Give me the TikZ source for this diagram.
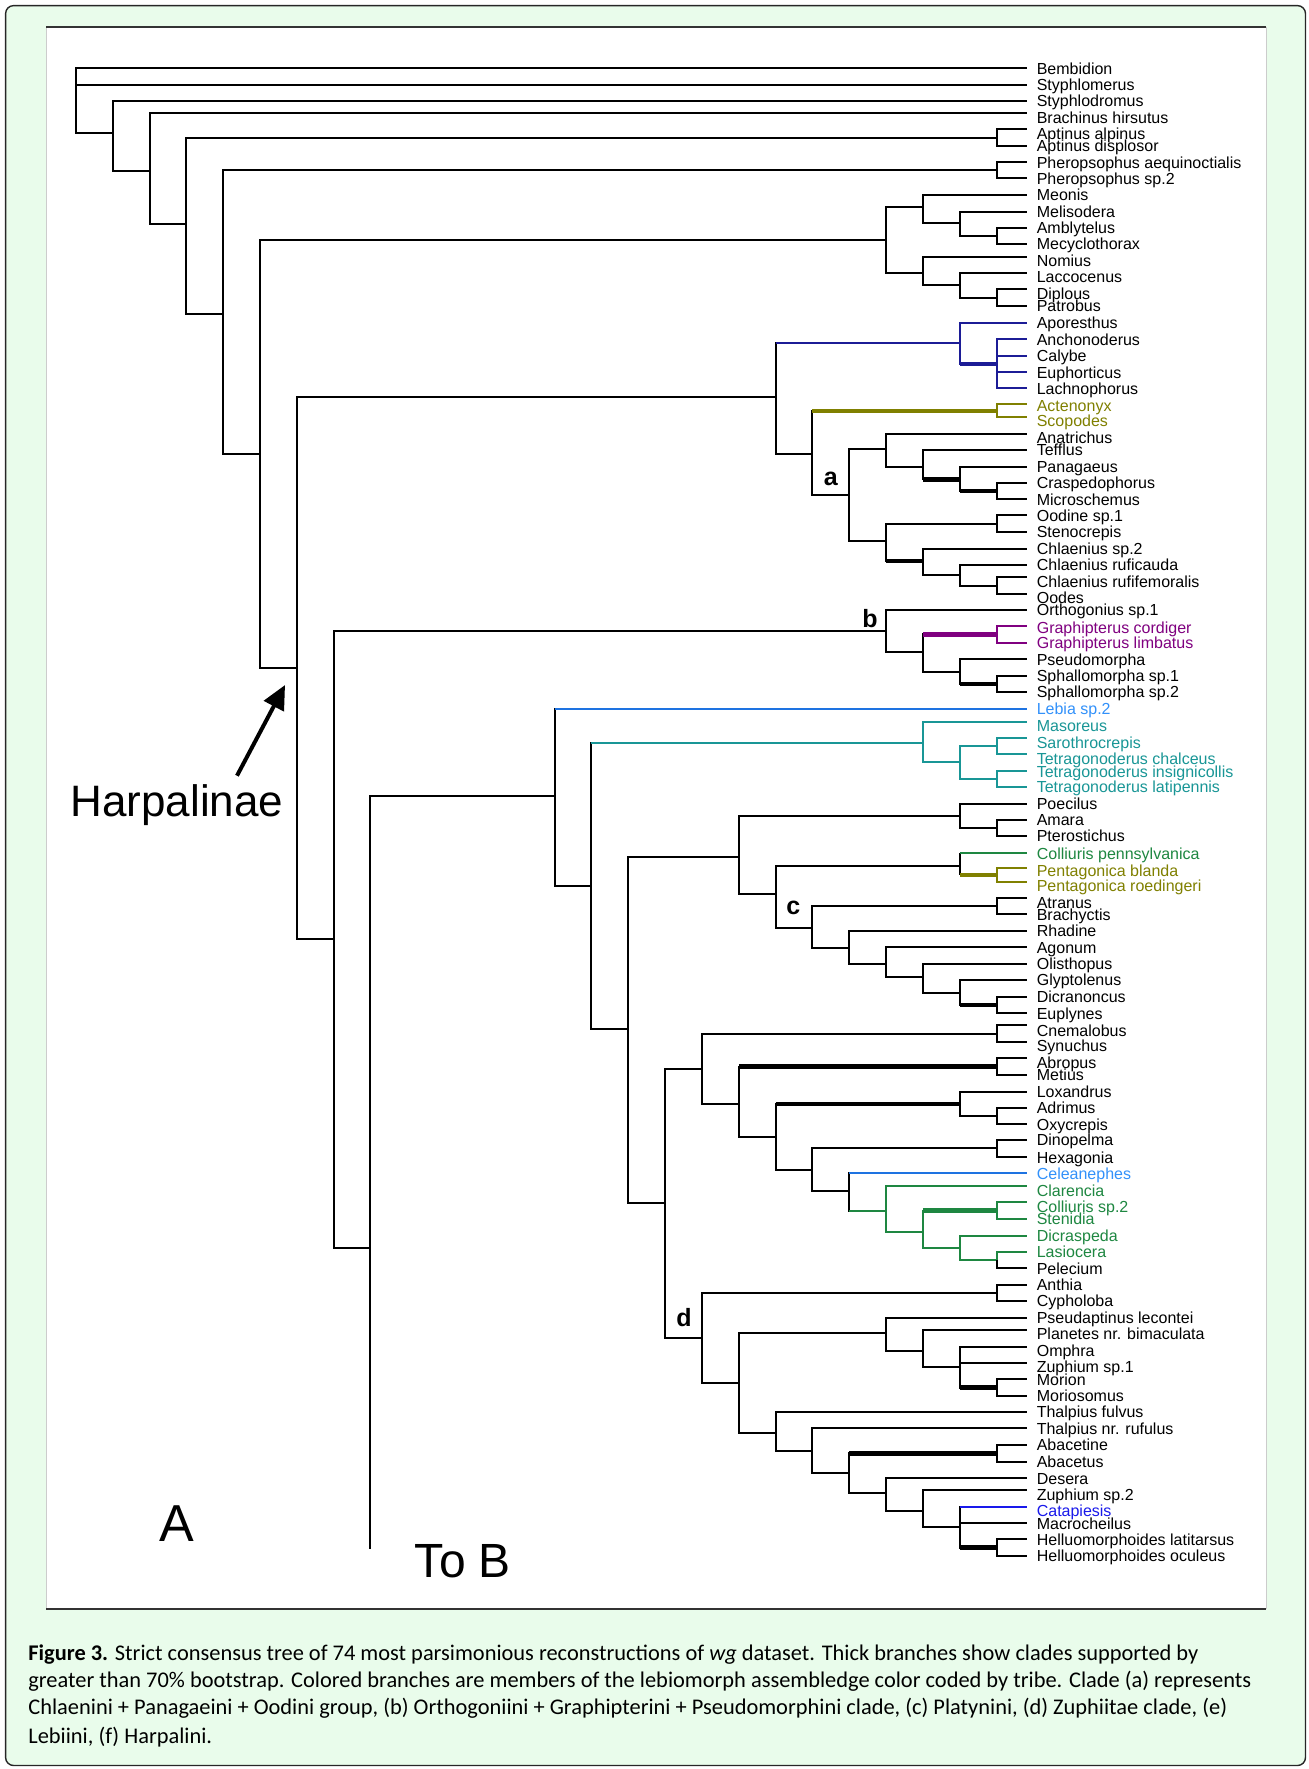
\documentclass[tikz,border=0pt]{standalone}
\usepackage{fontspec}
\setmainfont{Liberation Sans}
\newfontfamily\capfont{Carlito}
\usetikzlibrary{arrows.meta}
\definecolor{framegreen}{RGB}{233,252,235}
\definecolor{navyc}{RGB}{28,28,150}
\definecolor{olivec}{RGB}{128,128,0}
\definecolor{purplec}{RGB}{128,0,128}
\definecolor{lbluec}{RGB}{30,115,225}
\definecolor{lbluet}{RGB}{50,145,250}
\definecolor{tealc}{RGB}{25,150,150}
\definecolor{greenc}{RGB}{30,135,65}
\definecolor{bluec}{RGB}{25,25,235}
\newcommand{\lv}[1]{996.6-(#1-1)*36.83}
\tikzstyle{tip}=[inner sep=0pt,minimum size=0pt]
\tikzstyle{taxlab}=[inner xsep=4.5pt,inner ysep=0pt,text height=6pt,text depth=0.3pt,font=\fontsize{8}{9}\selectfont]
\tikzstyle{br}=[line width=1pt]
\tikzstyle{bs}=[line width=2.3pt]
\tikzstyle{hv}=[to path={|- (\tikztotarget)}]
\tikzstyle{cladelab}=[inner sep=0pt,font=\bfseries\fontsize{12.5}{14}\selectfont]
\tikzstyle{capline}=[anchor=west,inner sep=0pt,font=\capfont\fontsize{11.2}{13}\selectfont]

\begin{document}
\begin{tikzpicture}[x=0.5pt,y=-0.5pt]
            \useasboundingbox (0,0) rectangle (1308,1769);

            % FRAME PART

            \filldraw[fill=framegreen,draw=black!85,line width=0.7pt,rounded corners=4pt] (5.6,5.6) rectangle (1305.5,1765.5);
            \fill[white] (46,27) rectangle (1266,1609);
            \draw[black!20,line width=0.5pt] (46,27) -- (46,1609) (1266,27) -- (1266,1609);
            \draw[black!80,line width=0.7pt] (46,27) -- (1266,27) (46,1609) -- (1266,1609);

            % TAXA PART

            \node[tip,label={[taxlab]right:Bembidion}] (bem) at (1027,68.3) {};
            \node[tip,label={[taxlab]right:Styphlomerus}] (sto) at (1027,84.5) {};
            \node[tip,label={[taxlab]right:Styphlodromus}] (std) at (1027,101) {};
            \node[tip,label={[taxlab,yshift=-2.3pt]right:Brachinus hirsutus}] (bra) at (1027,112.7) {};
            \node[tip,label={[taxlab,yshift=-2pt]right:Aptinus alpinus}] (apa) at (1027,129.3) {};
            \node[tip,label={[taxlab]right:Aptinus displosor}] (apd) at (1027,146) {};
            \node[tip,label={[taxlab]right:Pheropsophus aequinoctialis}] (phe) at (1027,162.3) {};
            \node[tip,label={[taxlab]right:Pheropsophus sp.2}] (phs) at (1027,178.3) {};
            \node[tip,label={[taxlab]right:Meonis}] (meo) at (1027,195) {};
            \node[tip,label={[taxlab]right:Melisodera}] (mel) at (1027,211.7) {};
            \node[tip,label={[taxlab]right:Amblytelus}] (amb) at (1027,227.7) {};
            \node[tip,label={[taxlab]right:Mecyclothorax}] (mec) at (1027,244) {};
            \node[tip,label={[taxlab,yshift=-2pt]right:Nomius}] (nom) at (1027,256.7) {};
            \node[tip,label={[taxlab,yshift=-1.9pt]right:Laccocenus}] (lac) at (1027,272.7) {};
            \node[tip,label={[taxlab,yshift=-2pt]right:Diplous}] (dip) at (1027,289.3) {};
            \node[tip,label={[taxlab]right:Patrobus}] (pat) at (1027,305.7) {};
            \node[tip,label={[taxlab]right:Aporesthus}] (apo) at (1027,322.7) {};
            \node[tip,label={[taxlab]right:Anchonoderus}] (anc) at (1027,339.3) {};
            \node[tip,label={[taxlab]right:Calybe}] (cal) at (1027,355.7) {};
            \node[tip,label={[taxlab]right:Euphorticus}] (eup) at (1027,372.3) {};
            \node[tip,label={[taxlab]right:Lachnophorus}] (lah) at (1027,388.3) {};
            \node[tip,label={[taxlab,text=olivec,yshift=-0.5pt]right:Actenonyx}] (act) at (1027,404.3) {};
            \node[tip,label={[taxlab,text=olivec,yshift=-1.8pt]right:Scopodes}] (sco) at (1027,417.3) {};
            \node[tip,label={[taxlab,yshift=-2pt]right:Anatrichus}] (ana) at (1027,434) {};
            \node[tip,label={[taxlab]right:Tefflus}] (tef) at (1027,450) {};
            \node[tip,label={[taxlab]right:Panagaeus}] (pan) at (1027,466.7) {};
            \node[tip,label={[taxlab]right:Craspedophorus}] (cra) at (1027,482.7) {};
            \node[tip,label={[taxlab]right:Microschemus}] (mic) at (1027,499.3) {};
            \node[tip,label={[taxlab]right:Oodine sp.1}] (ood) at (1027,515.3) {};
            \node[tip,label={[taxlab]right:Stenocrepis}] (ste) at (1027,532) {};
            \node[tip,label={[taxlab]right:Chlaenius sp.2}] (chs) at (1027,549) {};
            \node[tip,label={[taxlab]right:Chlaenius ruficauda}] (chr) at (1027,565) {};
            \node[tip,label={[taxlab,yshift=-2pt]right:Chlaenius rufifemoralis}] (chf) at (1027,577.3) {};
            \node[tip,label={[taxlab,yshift=-2pt]right:Oodes}] (ode) at (1027,594) {};
            \node[tip,label={[taxlab]right:Orthogonius sp.1}] (ort) at (1027,610) {};
            \node[tip,label={[taxlab,text=purplec,yshift=-0.7pt]right:Graphipterus cordiger}] (grc) at (1027,626) {};
            \node[tip,label={[taxlab,text=purplec]right:Graphipterus limbatus}] (grl) at (1027,642.7) {};
            \node[tip,label={[taxlab]right:Pseudomorpha}] (pse) at (1027,659.3) {};
            \node[tip,label={[taxlab]right:Sphallomorpha sp.1}] (sp1) at (1027,675.7) {};
            \node[tip,label={[taxlab]right:Sphallomorpha sp.2}] (sp2) at (1027,692) {};
            \node[tip,label={[taxlab,text=lbluet]right:Lebia sp.2}] (leb) at (1027,708.7) {};
            \node[tip,label={[taxlab,text=tealc,yshift=-2pt]right:Masoreus}] (mas) at (1027,721.7) {};
            \node[tip,label={[taxlab,text=tealc,yshift=-2.4pt]right:Sarothrocrepis}] (sar) at (1027,737.7) {};
            \node[tip,label={[taxlab,text=tealc,yshift=-2.2pt]right:Tetragonoderus chalceus}] (tch) at (1027,754) {};
            \node[tip,label={[taxlab,text=tealc,yshift=-0.6pt]right:Tetragonoderus insignicollis}] (tin) at (1027,770.7) {};
            \node[tip,label={[taxlab,text=tealc]right:Tetragonoderus latipennis}] (tla) at (1027,786.7) {};
            \node[tip,label={[taxlab]right:Poecilus}] (poe) at (1027,803.7) {};
            \node[tip,label={[taxlab]right:Amara}] (ama) at (1027,820) {};
            \node[tip,label={[taxlab]right:Pterostichus}] (pte) at (1027,836) {};
            \node[tip,label={[taxlab,text=greenc]right:Colliuris pennsylvanica}] (cop) at (1027,853.3) {};
            \node[tip,label={[taxlab,text=olivec,yshift=-1pt]right:Pentagonica blanda}] (peb) at (1027,868.3) {};
            \node[tip,label={[taxlab,text=olivec,yshift=-2pt]right:Pentagonica roedingeri}] (per) at (1027,881.7) {};
            \node[tip,label={[taxlab,yshift=-2.5pt]right:Atranus}] (atr) at (1027,897.7) {};
            \node[tip,label={[taxlab,yshift=-0.6pt]right:Brachyctis}] (brc) at (1027,914) {};
            \node[tip,label={[taxlab]right:Rhadine}] (rha) at (1027,931) {};
            \node[tip,label={[taxlab]right:Agonum}] (ago) at (1027,947.3) {};
            \node[tip,label={[taxlab]right:Olisthopus}] (oli) at (1027,963.7) {};
            \node[tip,label={[taxlab]right:Glyptolenus}] (gly) at (1027,980) {};
            \node[tip,label={[taxlab]right:Dicranoncus}] (dic) at (1027,996.7) {};
            \node[tip,label={[taxlab]right:Euplynes}] (eus) at (1027,1013.3) {};
            \node[tip,label={[taxlab,yshift=-2.5pt]right:Cnemalobus}] (cne) at (1027,1025.3) {};
            \node[tip,label={[taxlab,yshift=-2pt]right:Synuchus}] (syn) at (1027,1042) {};
            \node[tip,label={[taxlab,yshift=-2.4pt]right:Abropus}] (abr) at (1027,1058.3) {};
            \node[tip,label={[taxlab]right:Metius}] (met) at (1027,1075) {};
            \node[tip,label={[taxlab]right:Loxandrus}] (lox) at (1027,1091.7) {};
            \node[tip,label={[taxlab]right:Adrimus}] (adr) at (1027,1107.7) {};
            \node[tip,label={[taxlab]right:Oxycrepis}] (oxy) at (1027,1124.3) {};
            \node[tip,label={[taxlab]right:Dinopelma}] (din) at (1027,1140) {};
            \node[tip,label={[taxlab,yshift=-0.6pt]right:Hexagonia}] (hex) at (1027,1156.7) {};
            \node[tip,label={[taxlab,text=lbluet]right:Celeanephes}] (cel) at (1027,1173.3) {};
            \node[tip,label={[taxlab,text=greenc,yshift=-2.5pt]right:Clarencia}] (clr) at (1027,1185.7) {};
            \node[tip,label={[taxlab,text=greenc,yshift=-2pt]right:Colliuris sp.2}] (co2) at (1027,1202.3) {};
            \node[tip,label={[taxlab,text=greenc]right:Stenidia}] (sti) at (1027,1218.7) {};
            \node[tip,label={[taxlab,text=greenc]right:Dicraspeda}] (dcr) at (1027,1235.7) {};
            \node[tip,label={[taxlab,text=greenc]right:Lasiocera}] (las) at (1027,1251.7) {};
            \node[tip,label={[taxlab]right:Pelecium}] (pel) at (1027,1268.3) {};
            \node[tip,label={[taxlab]right:Anthia}] (ant) at (1027,1285) {};
            \node[tip,label={[taxlab]right:Cypholoba}] (cyp) at (1027,1301) {};
            \node[tip,label={[taxlab]right:Pseudaptinus lecontei}] (psl) at (1027,1317.7) {};
            \node[tip,label={[taxlab,yshift=-1.8pt]right:Planetes nr. bimaculata}] (pla) at (1027,1330.3) {};
            \node[tip,label={[taxlab,yshift=-2.1pt]right:Omphra}] (omp) at (1027,1346.7) {};
            \node[tip,label={[taxlab,yshift=-1.7pt]right:Zuphium sp.1}] (zu1) at (1027,1363.3) {};
            \node[tip,label={[taxlab]right:Morion}] (mor) at (1027,1379.3) {};
            \node[tip,label={[taxlab]right:Moriosomus}] (mos) at (1027,1396) {};
            \node[tip,label={[taxlab]right:Thalpius fulvus}] (thf) at (1027,1411.7) {};
            \node[tip,label={[taxlab]right:Thalpius nr. rufulus}] (thr) at (1027,1428.3) {};
            \node[tip,label={[taxlab]right:Abacetine}] (abt) at (1027,1445) {};
            \node[tip,label={[taxlab]right:Abacetus}] (abc) at (1027,1461.7) {};
            \node[tip,label={[taxlab]right:Desera}] (des) at (1027,1478.3) {};
            \node[tip,label={[taxlab,yshift=-2.2pt]right:Zuphium sp.2}] (zu2) at (1027,1490) {};
            \node[tip,label={[taxlab,text=bluec,yshift=-2.2pt]right:Catapiesis}] (cat) at (1027,1506.7) {};
            \node[tip,label={[taxlab]right:Macrocheilus}] (mac) at (1027,1523.3) {};
            \node[tip,label={[taxlab]right:Helluomorphoides latitarsus}] (hel) at (1027,1539.3) {};
            \node[tip,label={[taxlab]right:Helluomorphoides oculeus}] (heo) at (1027,1555.7) {};

            % OUTGROUP PART

            \coordinate (r) at ({\lv{26}},100);
            \coordinate (n2) at ({\lv{25}},133.3);
            \coordinate (n3) at ({\lv{24}},170.7);
            \coordinate (n4) at ({\lv{23}},224.3);
            \coordinate (apt) at ({\lv{1}},137.7);
            \coordinate (n5) at ({\lv{22}},314.3);
            \coordinate (pher) at ({\lv{1}},170.3);
            \coordinate (n6) at ({\lv{21}},454);
            \coordinate (n7) at ({\lv{20}},668);

            \path[br] (r) edge[hv] (bem) edge[hv] (sto) edge[hv] (n2);
            \path[br] (n2) edge[hv] (std) edge[hv] (n3);
            \path[br] (n3) edge[hv] (bra) edge[hv] (n4);
            \path[br] (n4) edge[hv] (apt) edge[hv] (n5);
            \path[br] (apt) edge[hv] (apa) edge[hv] (apd);
            \path[br] (n5) edge[hv] (pher) edge[hv] (n6);
            \path[br] (pher) edge[hv] (phe) edge[hv] (phs);

            % MEONIS PART

            \coordinate (meoc) at ({\lv{4}},240);
            \coordinate (m3a) at ({\lv{3}},206.7);
            \coordinate (m2a) at ({\lv{2}},223.3);
            \coordinate (m1a) at ({\lv{1}},235.8);
            \coordinate (m3b) at ({\lv{3}},273.3);
            \coordinate (m2b) at ({\lv{2}},285);
            \coordinate (m1b) at ({\lv{1}},297.5);

            \path[br] (n6) edge[hv] (meoc) edge[hv] (n7);
            \path[br] (meoc) edge[hv] (m3a) edge[hv] (m3b);
            \path[br] (m3a) edge[hv] (meo) edge[hv] (m2a);
            \path[br] (m2a) edge[hv] (mel) edge[hv] (m1a);
            \path[br] (m1a) edge[hv] (amb) edge[hv] (mec);
            \path[br] (m3b) edge[hv] (nom) edge[hv] (m2b);
            \path[br] (m2b) edge[hv] (lac) edge[hv] (m1b);
            \path[br] (m1b) edge[hv] (dip) edge[hv] (pat);

            % CLADE a PART

            \coordinate (n8) at ({\lv{7}},397.3);
            \coordinate (blu2) at ({\lv{2}},343);
            \coordinate (blu1) at ({\lv{1}},363.8);
            \coordinate (n8b) at ({\lv{6}},454);
            \coordinate (oli1) at ({\lv{1}},410.8);
            \coordinate (cda) at ({\lv{5}},495);
            \coordinate (ca4) at ({\lv{4}},449.3);
            \coordinate (ca3) at ({\lv{3}},466.7);
            \coordinate (ca2) at ({\lv{2}},479.3);
            \coordinate (ca1) at ({\lv{1}},491);
            \coordinate (cb4) at ({\lv{4}},541);
            \coordinate (cb1) at ({\lv{1}},523.7);
            \coordinate (cb3) at ({\lv{3}},561);
            \coordinate (cb2) at ({\lv{2}},575.3);
            \coordinate (cb0) at ({\lv{1}},585.7);

            \path[br] (n7) edge[hv] (n8);
            \path[br] (n8) edge[hv] (blu2) edge[hv] (n8b);
            \path[br,navyc] (n8 |- blu2) edge (blu2);
            \path[br,navyc] (blu2) edge[hv] (apo) edge[hv] (blu1);
            \path[bs,navyc] (blu2 |- blu1) edge (blu1);
            \path[br,navyc] (blu1) edge[hv] (anc) edge[hv] (cal) edge[hv] (eup) edge[hv] (lah);
            \path[br] (n8b) edge[hv] (oli1) edge[hv] (cda);
            \path[bs,olivec] (n8b |- oli1) edge (oli1);
            \path[br,olivec] (oli1) edge[hv] (act) edge[hv] (sco);
            \path[br] (cda) edge[hv] (ca4) edge[hv] (cb4);
            \path[br] (ca4) edge[hv] (ana) edge[hv] (ca3);
            \path[br] (ca3) edge[hv] (tef) edge[hv] (ca2);
            \path[bs] (ca3 |- ca2) edge (ca2);
            \path[br] (ca2) edge[hv] (pan) edge[hv] (ca1);
            \path[bs] (ca2 |- ca1) edge (ca1);
            \path[br] (ca1) edge[hv] (cra) edge[hv] (mic);
            \path[br] (cb4) edge[hv] (cb1) edge[hv] (cb3);
            \path[bs] (cb4 |- cb3) edge (cb3);
            \path[br] (cb1) edge[hv] (ood) edge[hv] (ste);
            \path[br] (cb3) edge[hv] (chs) edge[hv] (cb2);
            \path[br] (cb2) edge[hv] (chr) edge[hv] (cb0);
            \path[br] (cb0) edge[hv] (chf) edge[hv] (ode);

            \node[cladelab] (lba) at ([shift={(-18.5,-16.5)}]cda) {a};

            % CLADE b PART

            \coordinate (n9) at ({\lv{19}},939);
            \coordinate (cdb) at ({\lv{4}},631);
            \coordinate (bb3) at ({\lv{3}},652);
            \coordinate (gra1) at ({\lv{1}},634.3);
            \coordinate (bb2) at ({\lv{2}},672);
            \coordinate (sph1) at ({\lv{1}},684);

            \path[br] (n7) edge[hv] (n9);
            \path[br] (n9) edge[hv] (cdb);
            \path[br] (cdb) edge[hv] (ort) edge[hv] (bb3);
            \path[br] (bb3) edge[hv] (gra1) edge[hv] (bb2);
            \path[bs,purplec] (bb3 |- gra1) edge (gra1);
            \path[br,purplec] (gra1) edge[hv] (grc) edge[hv] (grl);
            \path[br] (bb2) edge[hv] (pse) edge[hv] (sph1);
            \path[bs] (bb2 |- sph1) edge (sph1);
            \path[br] (sph1) edge[hv] (sp1) edge[hv] (sp2);

            \node[cladelab] (lbb) at ([shift={(-16,-12.5)}]cdb) {b};

            % LEBIA AND TEAL PART

            \coordinate (n10) at ({\lv{18}},1248);
            \coordinate (tob) at ({\lv{18}},1548.5);
            \coordinate (n11) at ({\lv{13}},796);
            \coordinate (n12) at ({\lv{12}},886);
            \coordinate (tea3) at ({\lv{3}},742.7);
            \coordinate (tea2) at ({\lv{2}},762.3);
            \coordinate (tea1a) at ({\lv{1}},745.8);
            \coordinate (tea1b) at ({\lv{1}},778.7);

            \path[br] (n9) edge[hv] (n10);
            \path[br] (n10) edge[hv] (n11) edge (tob);
            \path[br] (n11) edge[hv] (leb) edge[hv] (n12);
            \path[br,lbluec] (n11 |- leb) edge (leb);
            \path[br] (n12) edge[hv] (tea3);
            \path[br,tealc] (n12 |- tea3) edge (tea3);
            \path[br,tealc] (tea3) edge[hv] (mas) edge[hv] (tea2);
            \path[br,tealc] (tea2) edge[hv] (tea1a) edge[hv] (tea1b);
            \path[br,tealc] (tea1a) edge[hv] (sar) edge[hv] (tch);
            \path[br,tealc] (tea1b) edge[hv] (tin) edge[hv] (tla);

            % CLADE c PART

            \coordinate (n13) at ({\lv{11}},1029);
            \coordinate (n14) at ({\lv{8}},857.3);
            \coordinate (poe2) at ({\lv{2}},816);
            \coordinate (poe1) at ({\lv{1}},828);
            \coordinate (cdc) at ({\lv{7}},894.3);
            \coordinate (pen2) at ({\lv{2}},865.7);
            \coordinate (pen1) at ({\lv{1}},875);
            \coordinate (c6) at ({\lv{6}},928.3);
            \coordinate (atr1) at ({\lv{1}},905.8);
            \coordinate (c5) at ({\lv{5}},947.7);
            \coordinate (c4) at ({\lv{4}},963.7);
            \coordinate (c3) at ({\lv{3}},976.7);
            \coordinate (c2) at ({\lv{2}},993.3);
            \coordinate (c1) at ({\lv{1}},1005);

            \path[br] (n12) edge[hv] (n13);
            \path[br] (n13) edge[hv] (n14);
            \path[br] (n14) edge[hv] (poe2) edge[hv] (cdc);
            \path[br] (poe2) edge[hv] (poe) edge[hv] (poe1);
            \path[br] (poe1) edge[hv] (ama) edge[hv] (pte);
            \path[br] (cdc) edge[hv] (pen2) edge[hv] (c6);
            \path[br] (pen2 |- cop) edge (pen2 |- pen1);
            \path[br,greenc] (pen2 |- cop) edge (cop);
            \path[bs,olivec] (pen2 |- pen1) edge (pen1);
            \path[br,olivec] (pen1) edge[hv] (peb) edge[hv] (per);
            \path[br] (c6) edge[hv] (atr1) edge[hv] (c5);
            \path[br] (atr1) edge[hv] (atr) edge[hv] (brc);
            \path[br] (c5) edge[hv] (rha) edge[hv] (c4);
            \path[br] (c4) edge[hv] (ago) edge[hv] (c3);
            \path[br] (c3) edge[hv] (oli) edge[hv] (c2);
            \path[br] (c2) edge[hv] (gly) edge[hv] (c1);
            \path[bs] (c2 |- c1) edge (c1);
            \path[br] (c1) edge[hv] (dic) edge[hv] (eus);

            \node[cladelab] (lbc) at ([shift={(17.8,14)}]cdc) {c};

            % UPPER ZUPHIITAE PART

            \coordinate (n15) at ({\lv{10}},1202.7);
            \coordinate (cdd) at ({\lv{9}},1338.3);
            \coordinate (n16) at ({\lv{9}},1069);
            \coordinate (cne1) at ({\lv{1}},1033.7);
            \coordinate (n17) at ({\lv{8}},1104.3);
            \coordinate (abr1) at ({\lv{1}},1066.7);
            \coordinate (n18) at ({\lv{7}},1136.7);
            \coordinate (lox2) at ({\lv{2}},1103.9);
            \coordinate (lox1) at ({\lv{1}},1116);
            \coordinate (n19) at ({\lv{6}},1169.5);
            \coordinate (din1) at ({\lv{1}},1148.3);
            \coordinate (cel5) at ({\lv{5}},1190.7);
            \coordinate (gr4) at ({\lv{4}},1210.7);
            \coordinate (gr3) at ({\lv{3}},1231.7);
            \coordinate (gr1) at ({\lv{1}},1210.5);
            \coordinate (gr2) at ({\lv{2}},1247.7);
            \coordinate (gr0) at ({\lv{1}},1260);

            \path[br] (n13) edge[hv] (n15);
            \path[br] (n15) edge[hv] (n16) edge[hv] (cdd);
            \path[br] (n16) edge[hv] (cne1) edge[hv] (n17);
            \path[br] (cne1) edge[hv] (cne) edge[hv] (syn);
            \path[br] (n17) edge[hv] (abr1) edge[hv] (n18);
            \path[bs] (n17 |- abr1) edge (abr1);
            \path[br] (abr1) edge[hv] (abr) edge[hv] (met);
            \path[br] (n18) edge[hv] (lox2) edge[hv] (n19);
            \path[bs] (n18 |- lox2) edge (lox2);
            \path[br] (lox2) edge[hv] (lox) edge[hv] (lox1);
            \path[br] (lox1) edge[hv] (adr) edge[hv] (oxy);
            \path[br] (n19) edge[hv] (din1) edge[hv] (cel5);
            \path[br] (din1) edge[hv] (din) edge[hv] (hex);
            \path[br] (cel5) edge[hv] (cel) edge[hv] (gr4);
            \path[br,lbluec] (cel5 |- cel) edge (cel);
            \path[br,greenc] (cel5 |- gr4) edge (gr4);
            \path[br,greenc] (gr4) edge[hv] (clr) edge[hv] (gr3);
            \path[br,greenc] (gr3) edge[hv] (gr1) edge[hv] (gr2);
            \path[bs,greenc] (gr3 |- gr1) edge (gr1);
            \path[br,greenc] (gr1) edge[hv] (co2) edge[hv] (sti);
            \path[br,greenc] (gr2) edge[hv] (dcr) edge[hv] (gr0);
            \path[br,greenc] (gr0) edge[hv] (las);
            \path[br] (gr0) edge[hv] (pel);

            % CLADE d PART

            \coordinate (ant1) at ({\lv{1}},1293);
            \coordinate (n20) at ({\lv{8}},1383.3);
            \coordinate (n21) at ({\lv{4}},1333.3);
            \coordinate (z3) at ({\lv{3}},1351);
            \coordinate (z2) at ({\lv{2}},1367.3);
            \coordinate (z1) at ({\lv{1}},1387.7);
            \coordinate (n22) at ({\lv{7}},1433.3);
            \coordinate (n23) at ({\lv{6}},1450.8);
            \coordinate (n24) at ({\lv{5}},1472.5);
            \coordinate (aba1) at ({\lv{1}},1453.3);
            \coordinate (n25) at ({\lv{4}},1493.3);
            \coordinate (n26) at ({\lv{3}},1511);
            \coordinate (n27) at ({\lv{2}},1526.7);
            \coordinate (hel1) at ({\lv{1}},1547.5);

            \path[br] (cdd) edge[hv] (ant1) edge[hv] (n20);
            \path[br] (ant1) edge[hv] (ant) edge[hv] (cyp);
            \path[br] (n20) edge[hv] (n21) edge[hv] (n22);
            \path[br] (n21) edge[hv] (psl) edge[hv] (z3);
            \path[br] (z3) edge[hv] (pla) edge[hv] (z2);
            \path[br] (z2) edge[hv] (omp) edge[hv] (zu1) edge[hv] (z1);
            \path[bs] (z2 |- z1) edge (z1);
            \path[br] (z1) edge[hv] (mor) edge[hv] (mos);
            \path[br] (n22) edge[hv] (thf) edge[hv] (n23);
            \path[br] (n23) edge[hv] (thr) edge[hv] (n24);
            \path[br] (n24) edge[hv] (aba1) edge[hv] (n25);
            \path[bs] (n24 |- aba1) edge (aba1);
            \path[br] (aba1) edge[hv] (abt) edge[hv] (abc);
            \path[br] (n25) edge[hv] (des) edge[hv] (n26);
            \path[br] (n26) edge[hv] (zu2) edge[hv] (n27);
            \path[br] (n27) edge[hv] (cat) edge[hv] (mac) edge[hv] (hel1);
            \path[br,bluec] (n27 |- cat) edge (cat);
            \path[bs] (n27 |- hel1) edge (hel1);
            \path[br] (hel1) edge[hv] (hel) edge[hv] (heo);

            \node[cladelab] (lbd) at ([shift={(-18,-21)}]cdd) {d};

            % LABELS PART

            \node[font=\fontsize{22}{24}\selectfont] (harp) at (177,804.7) {Harpalinae};
            \path[line width=2pt,-{Triangle[length=12pt,width=11pt]}] ([shift={(60,-29)}]harp.center) edge ([shift={(-11.8,17)}]n7);
            \node[font=\fontsize{26}{28}\selectfont] (plA) at (177,1523.6) {A};
            \node[font=\fontsize{24}{26}\selectfont] (tobl) at (463,1561) {To B};

            % CAPTION PART

            \node[capline] (cap1) at (28,1654.6) {\textbf{Figure 3.} Strict consensus tree of 74 most parsimonious reconstructions of \textit{wg} dataset. Thick branches show clades supported by};
            \node[capline] (cap2) at (28,1681.6) {greater than 70\% bootstrap. Colored branches are members of the lebiomorph assembledge color coded by tribe. Clade (a) represents};
            \node[capline] (cap3) at (28,1708.7) {Chlaenini + Panagaeini + Oodini group, (b) Orthogoniini + Graphipterini + Pseudomorphini clade, (c) Platynini, (d) Zuphiitae clade, (e)};
            \node[capline] (cap4) at (28,1737) {Lebiini, (f) Harpalini.};

        \end{tikzpicture}
\end{document}
